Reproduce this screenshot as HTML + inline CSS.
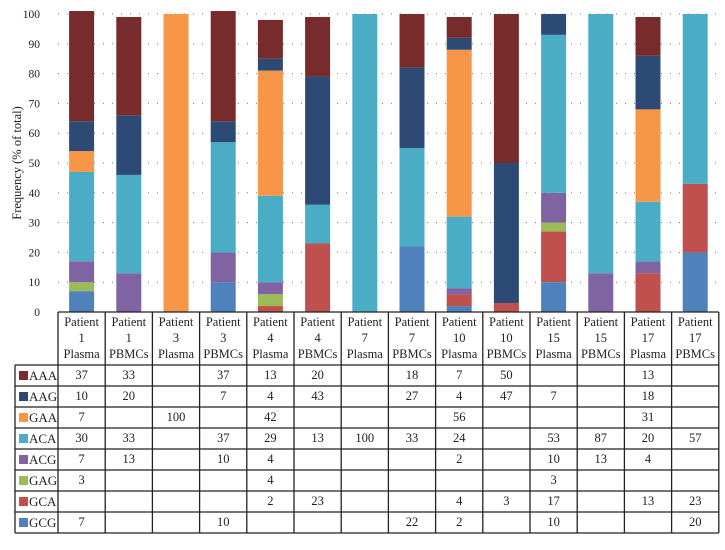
<!DOCTYPE html>
<html><head><meta charset="utf-8"><style>
body{margin:0;background:#fff;font-family:"Liberation Serif",serif;}
svg text{font-family:"Liberation Serif",serif;fill:#222;}
</style></head><body>
<svg id="c" width="725" height="545"></svg>
<script>
const categories=["Patient|1|Plasma","Patient|1|PBMCs","Patient|3|Plasma","Patient|3|PBMCs","Patient|4|Plasma","Patient|4|PBMCs","Patient|7|Plasma","Patient|7|PBMCs","Patient|10|Plasma","Patient|10|PBMCs","Patient|15|Plasma","Patient|15|PBMCs","Patient|17|Plasma","Patient|17|PBMCs"];
const seriesNames=["AAA","AAG","GAA","ACA","ACG","GAG","GCA","GCG"];
const seriesColors=["#772b2a","#2c4a74","#f79646","#4bacc6","#8064a2","#9bbb59","#c0504d","#4f81bd"];
const AAA=[37,33,0,37,13,20,0,18,7,50,0,0,13,0];
const AAG=[10,20,0,7,4,43,0,27,4,47,7,0,18,0];
const GAA=[7,0,100,0,42,0,0,0,56,0,0,0,31,0];
const ACA=[30,33,0,37,29,13,100,33,24,0,53,87,20,57];
const ACG=[7,13,0,10,4,0,0,0,2,0,10,13,4,0];
const GAG=[3,0,0,0,4,0,0,0,0,0,3,0,0,0];
const GCA=[0,0,0,0,2,23,0,0,4,3,17,0,13,23];
const GCG=[7,0,0,10,0,0,0,22,2,0,10,0,0,20];
const yTicks=[0,10,20,30,40,50,60,70,80,90,100];
const series=[AAA,AAG,GAA,ACA,ACG,GAG,GCA,GCG];

const svg=document.getElementById('c');
const NS="http://www.w3.org/2000/svg";
function mk(t,a,p){const e=document.createElementNS(NS,t);for(const k in a)e.setAttribute(k,a[k]);(p||svg).appendChild(e);return e;}
const x0=58,colW=47.2,yTop=14,yBot=312,barW=25;
const y=v=>yBot-(yBot-yTop)*v/100;
const xc=i=>x0+colW*i+colW/2;

yTicks.forEach(t=>{
  if(t>0){const g=mk('line',{x1:x0,x2:x0+colW*categories.length,y1:y(t),y2:y(t),stroke:'#777','stroke-width':1,'stroke-dasharray':'1 8'});
  
  }
  const l=mk('text',{x:40,y:y(t)+4,'text-anchor':'end','font-size':11.5});l.textContent=t;
  
  
});
const yt=mk('text',{transform:'translate(21,163) rotate(-90)','text-anchor':'middle','font-size':12.5});
yt.textContent='Frequency (% of total)';



categories.forEach((c,i)=>{
  let acc=0;
  for(let s=series.length-1;s>=0;s--){
    const v=series[s][i]; if(!v)continue;
    const r=mk('rect',{x:xc(i)-barW/2,y:y(acc+v),width:barW,height:y(acc)-y(acc+v),fill:seriesColors[s]});
    
    
    acc+=v;
  }
});

const tTop=312,hdrBot=365,rowH=21,legL=15,right=x0+colW*categories.length;
const tb=mk('g',{});


const L=(a,b,c,d)=>mk('line',{x1:a,y1:b,x2:c,y2:d,stroke:'#222','stroke-width':1.3},tb);
L(x0,tTop,right,tTop);
for(let i=0;i<=categories.length;i++)L(x0+colW*i,tTop,x0+colW*i,hdrBot+rowH*8);
L(legL,hdrBot,legL,hdrBot+rowH*8);
for(let r=0;r<=8;r++)L(legL,hdrBot+rowH*r,right,hdrBot+rowH*r);
categories.forEach((c,i)=>{
  c.split('|').forEach((p,k)=>{
    const t=mk('text',{x:xc(i),y:tTop+14+k*16,'text-anchor':'middle','font-size':12.5},tb);t.textContent=p;
    
    
  });
});
seriesNames.forEach((n,s)=>{
  const yy=hdrBot+rowH*s;
  const sw=mk('rect',{x:19,y:yy+6,width:9,height:9,fill:seriesColors[s]},tb);
  
  
  const t=mk('text',{x:29,y:yy+15,'font-size':13},tb);t.textContent=n;
  
  
  series[s].forEach((v,i)=>{ if(!v)return;
    const vt=mk('text',{x:xc(i),y:yy+14,'text-anchor':'middle','font-size':12.5},tb);vt.textContent=v;
    
    
  });
});
</script>
</body></html>
